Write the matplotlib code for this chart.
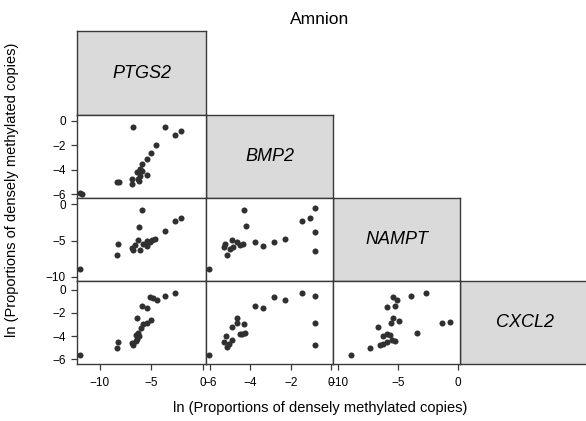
import matplotlib
matplotlib.use('Agg')
import matplotlib.pyplot as plt

plt.rcParams['font.family'] = ['Liberation Sans', 'DejaVu Sans']

# genes on the diagonal
genes = ['PTGS2', 'BMP2', 'NAMPT', 'CXCL2']

# PTGS2 (x) vs BMP2 (y)
ptgs2_bmp2_x = [-6.73, -3.72, -2.69, -2.10, -4.56, -5.02, -5.43, -5.89, -6.08, -6.35,
                -5.92, -5.43, -6.08, -6.31, -6.15, -6.89, -6.89, -8.35, -8.09, -11.9, -11.7]
ptgs2_bmp2_y = [-0.53, -0.53, -1.15, -0.81, -2.02, -2.63, -3.11, -3.57, -3.98, -4.16,
                -4.11, -4.43, -4.50, -4.78, -4.92, -4.78, -5.13, -4.99, -4.99, -5.91, -5.95]

# PTGS2 (x) vs NAMPT (y)
ptgs2_nampt_x = [-5.86, -2.13, -2.69, -6.18, -3.72, -4.63, -4.95, -5.43, -6.25, -5.82,
                 -6.57, -6.89, -6.79, -6.08, -5.37, -5.11, -8.19, -8.35, -11.9]
ptgs2_nampt_y = [-0.82, -1.88, -2.29, -3.11, -3.71, -4.71, -4.85, -5.04, -4.94, -5.40,
                 -5.63, -5.95, -6.32, -6.32, -5.77, -5.18, -5.40, -7.00, -8.84]

# PTGS2 (x) vs CXCL2 (y)
ptgs2_cxcl2_x = [-2.69, -3.72, -4.46, -4.79, -5.11, -5.86, -5.37, -6.35, -5.05, -5.37, -5.76,
                 -5.99, -6.25, -6.47, -6.15, -6.35, -6.47, -6.89, -6.79, -8.19, -8.35, -11.9]
ptgs2_cxcl2_y = [-0.25, -0.54, -0.91, -0.71, -0.65, -1.40, -1.57, -2.42, -2.62, -2.90, -2.99,
                 -3.28, -3.76, -3.90, -3.99, -4.24, -4.41, -4.61, -4.76, -4.47, -4.99, -5.61]

# BMP2 (x) vs NAMPT (y)
bmp2_nampt_x = [-4.32, -4.24, -0.81, -1.06, -1.42, -0.81, -0.81, -2.30, -2.84, -3.37, -3.78,
                -5.26, -4.93, -4.68, -4.52, -4.38, -5.31, -5.01, -4.85, -5.18, -6.03]
bmp2_nampt_y = [-0.82, -3.02, -0.45, -1.82, -2.29, -3.80, -6.41, -4.71, -5.18, -5.77, -5.18,
                -5.40, -4.94, -5.18, -5.54, -5.40, -5.86, -6.09, -5.86, -7.00, -8.84]

# BMP2 (x) vs CXCL2 (y)
bmp2_cxcl2_x = [-1.42, -0.81, -2.30, -2.84, -3.37, -3.78, -0.81, -0.81, -4.68, -4.32, -4.90,
                -4.65, -4.52, -4.27, -4.40, -5.21, -4.93, -5.31, -5.05, -5.18, -6.03]
bmp2_cxcl2_y = [-0.25, -0.54, -0.91, -0.63, -1.57, -1.42, -2.85, -4.76, -2.42, -2.96, -3.19,
                -2.90, -3.82, -3.70, -3.84, -3.99, -4.33, -4.47, -4.67, -4.90, -5.61]

# NAMPT (x) vs CXCL2 (y)
nampt_cxcl2_x = [-2.66, -3.89, -5.38, -5.09, -5.29, -5.93, -5.38, -4.90, -5.57, -6.69, -1.31,
                 -0.67, -3.41, -5.93, -6.22, -5.71, -5.51, -5.24, -5.93, -6.50, -6.22, -7.34, -8.93]
nampt_cxcl2_y = [-0.29, -0.54, -0.63, -0.91, -1.40, -1.53, -2.42, -2.70, -2.90, -3.19, -2.90,
                 -2.82, -3.70, -3.82, -3.96, -3.90, -4.33, -4.39, -4.47, -4.76, -4.67, -4.99, -5.64]

# axis ranges and ticks per gene (columns use x, rows use y)
col_lims = [(-12.2, 0.3), (-6.2, 0.1), (-10.45, 0.2)]
col_ticks = [[-10, -5, 0], [-6, -4, -2, 0], [-10, -5, 0]]
row_lims = [None, (-6.27, 0.46), (-10.55, 0.93), (-6.4, 0.74)]
row_ticks = [None, [0, -2, -4, -6], [0, -5, -10], [0, -2, -4, -6]]

W, H = 586, 421
fig = plt.figure(figsize=(W / 100, H / 100), dpi=100)

col_edges = [77, 206, 333, 460, 590]
row_edges = [31, 115, 197.5, 281, 364]

edge_col = '#3a3a3a'
dot_col = '#303030'


def panel(r, c):
    x0, x1 = col_edges[c], col_edges[c + 1]
    y0, y1 = row_edges[r], row_edges[r + 1]
    ax = fig.add_axes([x0 / W, 1 - y1 / H, (x1 - x0) / W, (y1 - y0) / H])
    for s in ax.spines.values():
        s.set_color(edge_col)
        s.set_linewidth(1.0)
    ax.tick_params(direction='out', length=4, width=0.9, color=edge_col,
                   labelsize=8.5)
    ax.tick_params(axis='x', pad=5)
    ax.tick_params(axis='y', pad=4)
    return ax


# diagonal name boxes
for i, g in enumerate(genes):
    ax = panel(i, i)
    ax.set_facecolor('#dadada')
    ax.set_xticks([])
    ax.set_yticks([])
    ax.text(0.5, 0.5, g, transform=ax.transAxes, ha='center', va='center',
            fontsize=13, style='italic')

pairs = {
    (1, 0): (ptgs2_bmp2_x, ptgs2_bmp2_y),
    (2, 0): (ptgs2_nampt_x, ptgs2_nampt_y),
    (3, 0): (ptgs2_cxcl2_x, ptgs2_cxcl2_y),
    (2, 1): (bmp2_nampt_x, bmp2_nampt_y),
    (3, 1): (bmp2_cxcl2_x, bmp2_cxcl2_y),
    (3, 2): (nampt_cxcl2_x, nampt_cxcl2_y),
}

for (r, c), (xs, ys) in pairs.items():
    ax = panel(r, c)
    ax.scatter(xs, ys, s=19, color=dot_col, linewidths=0, zorder=3)
    ax.set_xlim(*col_lims[c])
    ax.set_ylim(*row_lims[r])
    if r == 3:
        ax.set_xticks(col_ticks[c])
    else:
        ax.set_xticks([])
    if c == 0:
        ax.set_yticks(row_ticks[r])
    else:
        ax.set_yticks([])

fig.text(320 / W, 1 - 19 / H, 'Amnion', ha='center', va='center', fontsize=12.5)
fig.text(320 / W, 1 - 408 / H, 'ln (Proportions of densely methylated copies)',
         ha='center', va='center', fontsize=10.5)
fig.text(12 / W, 1 - 190 / H, 'ln (Proportions of densely methylated copies)',
         ha='center', va='center', rotation=90, fontsize=10.5)

fig.savefig('out.png', dpi=100)
